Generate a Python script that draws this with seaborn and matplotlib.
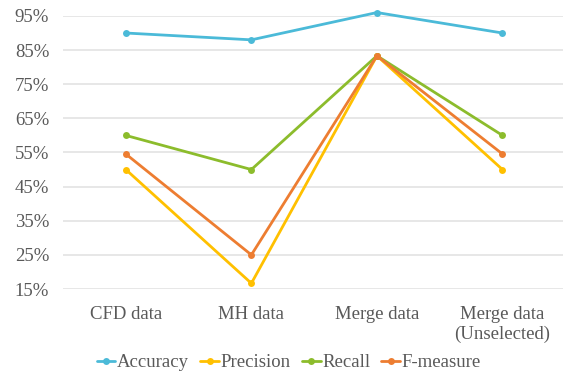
import matplotlib
matplotlib.use("Agg")
import matplotlib.pyplot as plt
import seaborn as sns
import pandas as pd
from matplotlib.ticker import FuncFormatter

categories = ["CFD data", "MH data", "Merge data", "Merge data\n(Unselected)"]
series_names = ["Accuracy", "Precision", "Recall", "F-measure"]
accuracy = [0.90, 0.88, 0.96, 0.90]
precision = [0.50, 0.1667, 0.8333, 0.50]
recall = [0.60, 0.50, 0.8333, 0.60]
f_measure = [0.5455, 0.25, 0.8333, 0.5455]
y_ticks = [0.15, 0.25, 0.35, 0.45, 0.55, 0.65, 0.75, 0.85, 0.95]

colors = ["#4BBAD8", "#FFC000", "#8CBC2C", "#ED7D31"]

rows = []
for name, vals in zip(series_names, [accuracy, precision, recall, f_measure]):
    for i, (c, v) in enumerate(zip(categories, vals)):
        rows.append({"category": c, "x": i, "series": name, "value": v})
df = pd.DataFrame(rows)

sns.set_theme(style="white")
plt.rcParams["font.family"] = ["Liberation Serif", "DejaVu Serif"]

fig = plt.figure(figsize=(5.63, 3.71), dpi=100)
ax = fig.add_axes([0.112, 0.221, 0.892, 0.736])

sns.lineplot(data=df, x="x", y="value", hue="series", hue_order=series_names,
             palette=colors, marker="o", markersize=5, markeredgewidth=0,
             linewidth=2, ax=ax, legend=True)
for ln in ax.lines:
    ln.set_clip_on(False)

ax.set_xlim(-0.5, 3.5)
ax.set_ylim(0.15, 0.95)
ax.set_yticks(y_ticks)
ax.yaxis.set_major_formatter(FuncFormatter(lambda v, p: f"{round(v*100)}%"))
ax.set_xticks(range(len(categories)))
ax.set_xticklabels(categories)
ax.grid(axis="y", color="#E3E3E3", linewidth=1.2)
ax.set_axisbelow(True)
for s in ax.spines.values():
    s.set_visible(False)
ax.tick_params(axis="both", length=0, labelsize=13.5, labelcolor="#595959")
ax.tick_params(axis="y", pad=10)
ax.tick_params(axis="x", pad=12)
ax.set_xlabel("")
ax.set_ylabel("")

handles, labels = ax.get_legend_handles_labels()
ax.legend_.remove()
fig.legend(handles, labels, loc="center", bbox_to_anchor=(0.513, 0.022), ncol=4,
           frameon=False, fontsize=13.5, labelcolor="#595959", handlelength=1.0,
           handletextpad=0.08, columnspacing=0.6, borderaxespad=0)

fig.savefig("out.png", dpi=100)
